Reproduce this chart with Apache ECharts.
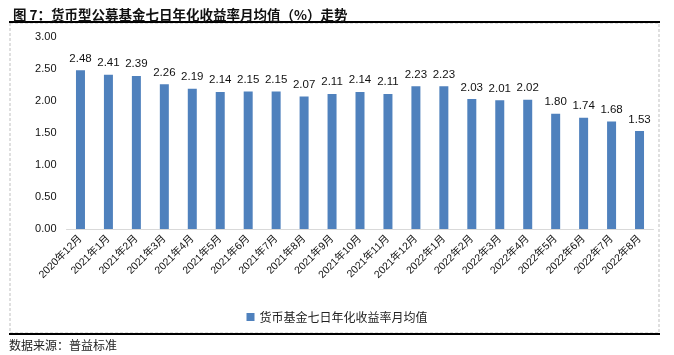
<!DOCTYPE html>
<html><head><meta charset="utf-8">
<script src="https://cdn.jsdelivr.net/npm/echarts@6/dist/echarts.min.js"></script>
<style>html,body{margin:0;padding:0;background:#fff}#c{width:674px;height:355px}</style>
</head><body><div id="c"></div>
<script>
const categories = ["2020年12月","2021年1月","2021年2月","2021年3月","2021年4月","2021年5月","2021年6月","2021年7月","2021年8月","2021年9月","2021年10月","2021年11月","2021年12月","2022年1月","2022年2月","2022年3月","2022年4月","2022年5月","2022年6月","2022年7月","2022年8月"];
const values = [2.48,2.41,2.39,2.26,2.19,2.14,2.15,2.15,2.07,2.11,2.14,2.11,2.23,2.23,2.03,2.01,2.02,1.80,1.74,1.68,1.53];
const seriesName = "货币基金七日年化收益率月均值";
const titleText = "图 7：货币型公募基金七日年化收益率月均值（%）走势";
const sourceText = "数据来源：普益标准";
const yTicks = [0, 0.5, 1, 1.5, 2, 2.5, 3];

const font = "'Liberation Sans', Arial, 'Noto Sans CJK SC', sans-serif";
const chart = echarts.init(document.getElementById('c'));
chart.setOption({
  animation: false,
  title: {text: titleText, left: 8, top: 3, textStyle: {fontSize: 13.5, fontWeight: 'bold', color: '#111', fontFamily: "'Noto Sans CJK SC', sans-serif"}},
  grid: {left: 66.5, right: 20.5, top: 37, height: 192, containLabel: false},
  legend: {bottom: 27, left: 'center', itemWidth: 8, itemHeight: 8, icon: 'rect', itemGap: 4,
    textStyle: {fontSize: 12, color: '#222', fontFamily: "'Noto Sans CJK SC', sans-serif"}, data: [seriesName]},
  xAxis: {type: 'category', data: categories,
    axisLine: {lineStyle: {color: '#d9d9d9'}}, axisTick: {show: false},
    axisLabel: {rotate: 45, fontSize: 10.5, color: '#111', interval: 0, margin: 8, fontFamily: font}},
  yAxis: {type: 'value', min: yTicks[0], max: yTicks[yTicks.length-1], interval: 0.5,
    axisLine: {show: false}, axisTick: {show: false}, splitLine: {show: false},
    axisLabel: {fontSize: 11, color: '#111', margin: 10, fontFamily: font, formatter: v => v.toFixed(2)}},
  series: [{name: seriesName, type: 'bar', data: values, barWidth: 9,
    itemStyle: {color: '#4F81BD'},
    label: {show: true, position: 'top', distance: 6, fontSize: 11.5, color: '#111', fontFamily: font, formatter: p => p.value.toFixed(2)}}],
  graphic: [
    {type: 'rect', shape: {x: 10, y: 23, width: 649, height: 310}, style: {fill: 'none', stroke: '#bfbfbf', lineDash: [3, 2], lineWidth: 1}, z: -1},
    {type: 'line', shape: {x1: 9, y1: 22, x2: 660, y2: 22}, style: {stroke: '#000', lineWidth: 2}},
    {type: 'line', shape: {x1: 9, y1: 334, x2: 660, y2: 334}, style: {stroke: '#000', lineWidth: 2}},
    {type: 'text', left: 9, top: 339, style: {text: sourceText, fontSize: 12, fill: '#222', fontFamily: "'Noto Sans CJK SC', sans-serif"}}
  ]
});
</script></body></html>
